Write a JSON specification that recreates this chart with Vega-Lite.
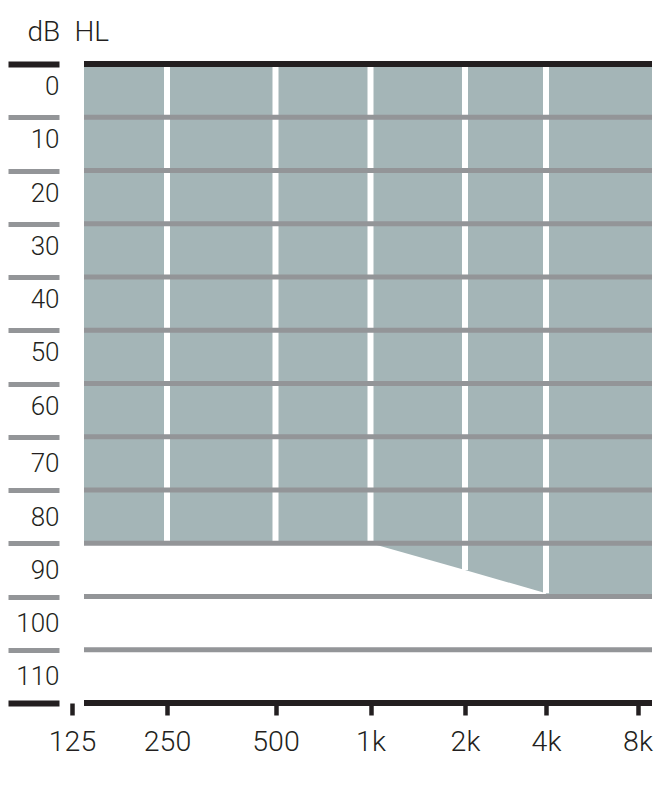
{
  "$schema": "https://vega.github.io/schema/vega-lite/v6.json",
  "description": "Audiometer range: shaded band of dB HL per frequency.",
  "autosize": {"type": "none"},
  "padding": {"left": 84, "top": 64, "right": 17, "bottom": 84},
  "width": 568,
  "height": 639,
  "background": "white",
  "config": {"view": {"stroke": null}, "font": "Roboto"},
  "datasets": {
    "range": [
      {"freq": 125, "floor": 85},
      {"freq": 250, "floor": 85},
      {"freq": 500, "floor": 85},
      {"freq": 1000, "floor": 85},
      {"freq": 2000, "floor": 90},
      {"freq": 4000, "floor": 94.4},
      {"freq": 8000, "floor": 95}
    ],
    "edges": [
      {"edge": -5}, {"edge": 5}, {"edge": 15}, {"edge": 25}, {"edge": 35},
      {"edge": 45}, {"edge": 55}, {"edge": 65}, {"edge": 75}, {"edge": 85},
      {"edge": 95}, {"edge": 105}, {"edge": 115}
    ]
  },
  "data": {"name": "range"},
  "layer": [
    {
      "data": {"values": [{"band": "range"}]},
      "mark": {"type": "rect", "color": "#a4b5b7"},
      "encoding": {
        "y": {"datum": -5, "type": "quantitative"},
        "y2": {"datum": 95}
      }
    },
    {
      "transform": [{"filter": "datum.freq <= 4000"}],
      "mark": {"type": "area", "color": "white", "clip": true},
      "encoding": {
        "x": {
          "field": "freq",
          "type": "quantitative",
          "scale": {
            "type": "log",
            "domain": [125, 250, 500, 1000, 2000, 4000, 8000],
            "range": [-12, 83, 191.5, 286.5, 381, 462, 553.5],
            "nice": false,
            "zero": false
          },
          "axis": {
            "values": [125, 250, 500, 1000, 2000, 4000, 8000],
            "labelExpr": "datum.value >= 1000 ? format(datum.value / 1000, 'd') + 'k' : format(datum.value, 'd')",
            "domain": false,
            "grid": false,
            "ticks": true,
            "tickColor": "#231f20",
            "tickWidth": 4.5,
            "tickSize": 12,
            "labelPadding": 12,
            "labelFontSize": 28.5,
            "labelFontWeight": 300,
            "labelColor": "#231f20",
            "labelFlush": false,
            "labelOverlap": false,
            "labelBound": false,
            "title": null,
            "zindex": 1
          }
        },
        "y": {
          "field": "floor",
          "type": "quantitative",
          "scale": {"domain": [-5, 115], "reverse": true, "nice": false, "zero": false},
          "axis": {
            "orient": "left",
            "offset": 25,
            "values": [-5, 5, 15, 25, 35, 45, 55, 65, 75, 85, 95, 105, 115],
            "labelExpr": "datum.value < 115 ? format(datum.value + 5, 'd') : ''",
            "domain": false,
            "grid": false,
            "tickColor": {"condition": {"test": "datum.value === -5 || datum.value === 115", "value": "#231f20"}, "value": "#939598"},
            "tickWidth": {"condition": {"test": "datum.value === -5 || datum.value === 115", "value": 6}, "value": 5},
            "tickSize": 51,
            "labelPadding": -51,
            "labelOffset": {"condition": {"test": "datum.value < 60", "value": 22.5}, "value": 27},
            "labelFontSize": 26,
            "labelFontWeight": 300,
            "labelColor": "#231f20",
            "labelBaseline": "middle",
            "labelOverlap": false,
            "labelBound": false,
            "labelFlush": false,
            "title": "dB\u2002HL",
            "titleAngle": 0,
            "titleX": -32,
            "titleY": -24,
            "titleAlign": "left",
            "titleBaseline": "alphabetic",
            "titleFontSize": 28,
            "titleFontWeight": 300,
            "titleColor": "#231f20",
            "zindex": 1
          }
        },
        "y2": {"datum": 95}
      }
    },
    {
      "transform": [{"filter": "datum.freq >= 250 && datum.freq <= 4000"}],
      "mark": {"type": "rule", "color": "white", "strokeWidth": 6},
      "encoding": {
        "x": {"field": "freq", "type": "quantitative"},
        "y": {"field": "floor", "type": "quantitative"},
        "y2": {"datum": -5}
      }
    },
    {
      "data": {"name": "edges"},
      "mark": {"type": "rule"},
      "encoding": {
        "y": {"field": "edge", "type": "quantitative"},
        "color": {
          "condition": {"test": "datum.edge === -5 || datum.edge === 115", "value": "#231f20"},
          "value": "#939598"
        },
        "strokeWidth": {
          "condition": {"test": "datum.edge === -5 || datum.edge === 115", "value": 6},
          "value": 5
        }
      }
    }
  ]
}
